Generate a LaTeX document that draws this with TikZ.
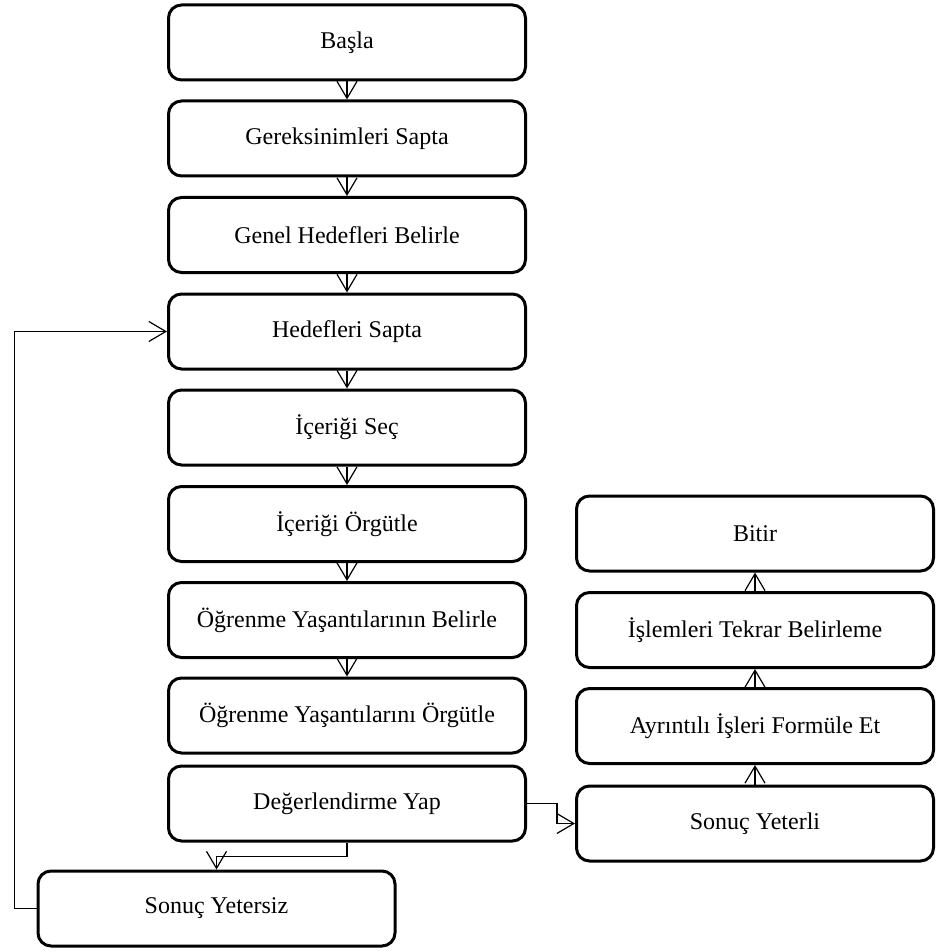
\documentclass[tikz,border=0pt]{standalone}
\usepackage{fontspec}
\setmainfont{Liberation Serif}
\usetikzlibrary{arrows.meta}
\tikzset{
	box/.style={draw,line width=1.5pt,rounded corners=6.5pt,minimum width=178.5pt,minimum height=37.5pt,font=\fontsize{12}{14}\selectfont},
	link/.style={line width=0.75pt,-{Straight Barb[length=8.5pt,width=10pt,line width=0.6pt]}}
}
\begin{document}
\begin{tikzpicture}[x=0.5pt,y=-0.5pt]
						\useasboundingbox (0, 0) rectangle (938, 952);
						% left column
						\node [box] (basla) at (347, 42.5) {Başla};
						\node [box] (gereksinim) at (347, 138.5) {Gereksinimleri Sapta};
						\node [box] (genel) at (347, 235) {Genel Hedefleri Belirle};
						\node [box] (hedef) at (347, 331.5) {Hedefleri Sapta};
						\node [box] (icsec) at (347, 427.5) {İçeriği Seç};
						\node [box] (icorg) at (347, 524) {İçeriği Örgütle};
						\node [box] (yasbel) at (347, 620) {Öğrenme Yaşantılarının Belirle};
						\node [box] (yasorg) at (347, 715.5) {Öğrenme Yaşantılarını Örgütle};
						\node [box] (deger) at (347, 803.5) {Değerlendirme Yap};
						\node [box] (yetersiz) at (216.5, 908.5) {Sonuç Yetersiz};
						% right column
						\node [box] (bitir) at (755, 533.5) {Bitir};
						\node [box] (islem) at (755, 630) {İşlemleri Tekrar Belirleme};
						\node [box] (ayrinti) at (755, 726) {Ayrıntılı İşleri Formüle Et};
						\node [box] (yeterli) at (755, 823.5) {Sonuç Yeterli};

						\foreach \a/\b in {basla/gereksinim, gereksinim/genel, genel/hedef, hedef/icsec, icsec/icorg, icorg/yasbel, yasbel/yasorg}
							\draw [link] (\a.south) -- (\b.north);
						\foreach \a/\b in {yeterli/ayrinti, ayrinti/islem, islem/bitir}
							\draw [link] (\a.north) -- (\b.south);

						\draw [link] (deger.south) -- ++(0, 14) -| (yetersiz.north);
						\draw [link] (deger.east) -- ++(30, 0) |- (yeterli.west);
						\draw [link] (yetersiz.west) -- ++(-22, 0) |- (hedef.west);
					\end{tikzpicture}
\end{document}
